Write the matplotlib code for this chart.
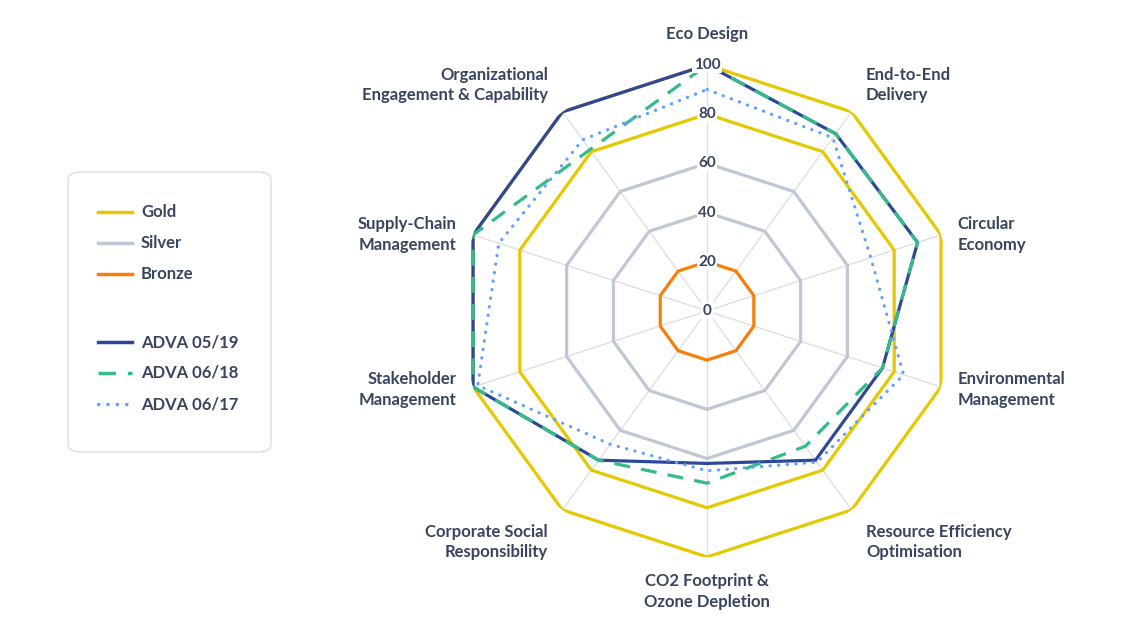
import numpy as np
import matplotlib
matplotlib.use('Agg')
from matplotlib import pyplot as plt
from matplotlib.lines import Line2D
from matplotlib.patches import FancyBboxPatch

plt.rcParams['font.family'] = ['Lato', 'DejaVu Sans']

# axis names, clockwise from the top
categories = ['Eco Design', 'End-to-End\nDelivery', 'Circular\nEconomy',
              'Environmental\nManagement', 'Resource Efficiency\nOptimisation',
              'CO2 Footprint &\nOzone Depletion', 'Corporate Social\nResponsibility',
              'Stakeholder\nManagement', 'Supply-Chain\nManagement',
              'Organizational\nEngagement & Capability']

# benchmark levels (each drawn as a ring)
gold_levels = [100, 80]
silver_levels = [60, 40]
bronze_levels = [20]

# assessment results
adva_0519 = [100, 89, 90, 75, 75, 62, 75, 100, 100, 100]
adva_0618 = [100, 89, 90, 75, 68, 70, 75, 100, 100, 81]
adva_0617 = [90, 87, 70, 84, 76, 65, 67, 98, 89, 86]

tick_values = [0, 20, 40, 60, 80, 100]

TEXT = '#3a4360'
GOLD = '#e5c800'
SILVER = '#bec7d3'
BRONZE = '#f57f0a'
NAVY = '#2e4899'
GREEN = '#33bb88'
LBLUE = '#62a0ff'

n = len(categories)
angles = np.linspace(0, 2 * np.pi, n, endpoint=False)
closed = np.append(angles, angles[0])

def ring(vals):
    vals = list(vals)
    return np.array(vals + vals[:1])

fig = plt.figure(figsize=(11.4, 6.4), dpi=100)
ax = fig.add_axes([0.4044, 0.1297, 0.4316, 0.769], projection='polar')
ax.set_theta_zero_location('N')
ax.set_theta_direction(-1)
ax.set_ylim(0, 100)
ax.set_xticks([])
ax.set_yticks([])
ax.grid(False)
ax.spines['polar'].set_visible(False)
ax.patch.set_alpha(0)

# spokes
for a in angles:
    ax.plot([a, a], [0, 100], color='#dddddd', lw=0.9, zorder=1)

for lv in bronze_levels:
    ax.plot(closed, ring([lv] * n), color=BRONZE, lw=2.3, zorder=2)
for lv in silver_levels:
    ax.plot(closed, ring([lv] * n), color=SILVER, lw=2.3, zorder=2)
for lv in gold_levels:
    ax.plot(closed, ring([lv] * n), color=GOLD, lw=2.3, zorder=3)

ax.plot(closed, ring(adva_0519), color=NAVY, lw=2.3, zorder=4)
ax.plot(closed, ring(adva_0618), color=GREEN, lw=2.3, zorder=5,
        dashes=(5, 3.5))
ax.plot(closed, ring(adva_0617), color=LBLUE, lw=2.3, zorder=6,
        dashes=(0.1, 2.6), dash_capstyle='round')

# radial tick labels on the top spoke
for tv in tick_values:
    ax.text(0, tv, str(tv), ha='center', va='center', fontsize=11,
            fontweight='bold', color=TEXT, zorder=10,
            bbox=dict(boxstyle='square,pad=0.1', fc='white', ec='none'))

# category labels: radius 110, then a small vertical nudge (pixels)
nudge_px = [6, 7, -5, 3, -12, -10, -12, 3, -5, 7]
for a, lab, dy in zip(angles, categories, nudge_px):
    deg = np.degrees(a) % 360
    if deg < 1 or abs(deg - 180) < 1:
        ha = 'center'
    else:
        ha = 'left' if deg < 180 else 'right'
    r = 107 if abs(np.sin(a)) > 0.9 else 110
    ax.annotate(lab, xy=(a, r), xytext=(0, dy * 0.72), textcoords='offset points',
                ha=ha, va='center', fontsize=12, fontweight='bold',
                color=TEXT, linespacing=1.35, annotation_clip=False)

# legend box
W, H = 1140.0, 640.0
box = FancyBboxPatch((68 / W, 1 - 452 / H), (271 - 68) / W, (452 - 172) / H,
                     boxstyle='round,pad=0,rounding_size=0.012',
                     transform=fig.transFigure, fc='white', ec='#dcdde3', lw=1.0)
fig.patches.append(box)

legend_items = [('Gold', GOLD, '-', 212), ('Silver', SILVER, '-', 243),
                ('Bronze', BRONZE, '-', 274), ('ADVA 05/19', NAVY, '-', 342),
                ('ADVA 06/18', GREEN, '--', 373), ('ADVA 06/17', LBLUE, ':', 404)]
for name, col, ls, ypx in legend_items:
    y = 1 - ypx / H
    ln = Line2D([98 / W, 132 / W], [y, y], transform=fig.transFigure,
                color=col, lw=2.5)
    if ls == '--':
        ln.set_dashes((5, 3.5))
    elif ls == ':':
        ln.set_dashes((0.1, 2.6))
        ln.set_dash_capstyle('round')
    fig.lines.append(ln)
    fig.text(141 / W, y, name, ha='left', va='center', fontsize=12,
             fontweight='bold', color=TEXT)

fig.savefig('out.png', dpi=100, facecolor='white')
